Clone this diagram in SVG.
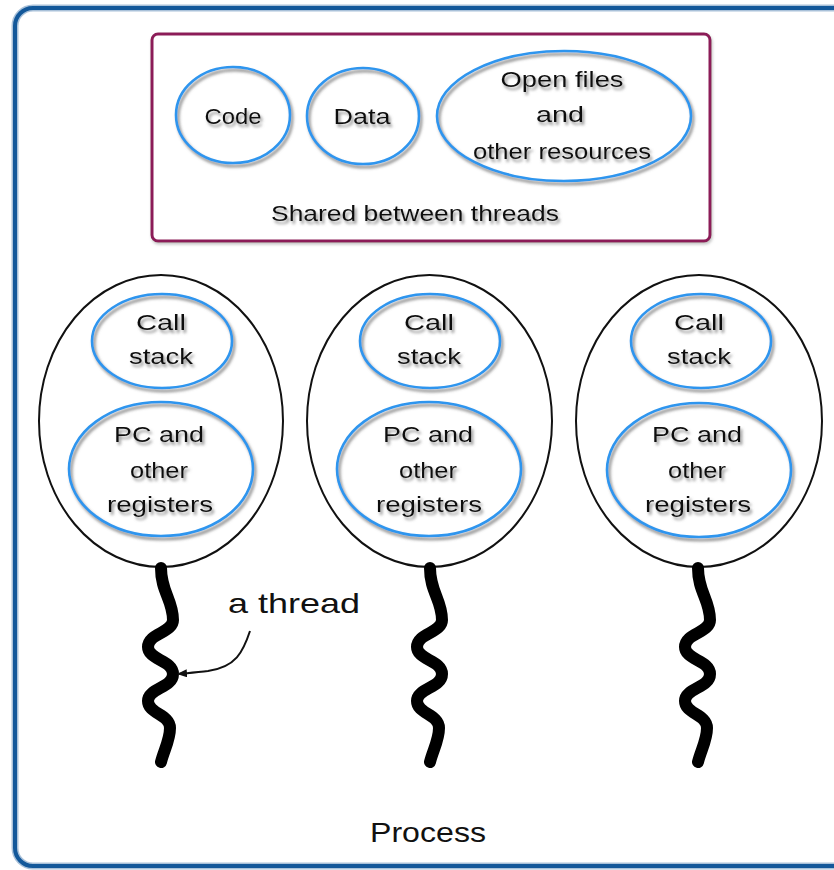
<svg xmlns="http://www.w3.org/2000/svg" width="834" height="870" viewBox="0 0 834 870">
<style>
text{font-family:"Liberation Sans","Noto Sans",sans-serif;fill:#111;text-anchor:middle}
.lbl{font-size:22px;filter:url(#tsh)}
.big{font-size:28px}
.blue{fill:none;stroke:#2e95ee;stroke-width:2.6;filter:url(#esh)}
.thr{fill:none;stroke:#111;stroke-width:2}
.wave{fill:none;stroke:#000;stroke-width:12;stroke-linecap:round;stroke-linejoin:round}
</style>
<defs>
<filter id="tsh" x="-20%" y="-30%" width="140%" height="170%">
<feDropShadow dx="2" dy="3" stdDeviation="1.6" flood-color="#777" flood-opacity="0.8"/>
</filter>
<filter id="esh" x="-10%" y="-10%" width="125%" height="125%">
<feDropShadow dx="2" dy="3" stdDeviation="1.8" flood-color="#666" flood-opacity="0.8"/>
</filter>
<filter id="bsh" x="-5%" y="-5%" width="110%" height="115%">
<feDropShadow dx="1" dy="2" stdDeviation="1.5" flood-color="#999" flood-opacity="0.6"/>
</filter>
<marker id="ah" viewBox="0 0 10 8" refX="9" refY="4" markerWidth="10" markerHeight="8" markerUnits="userSpaceOnUse" orient="auto">
<path d="M0,0 L10,4 L0,8 Z" fill="#111"/>
</marker>
<path id="wv" d="M0,568 C0,592 12,600 12,620 C12,633 -13,633 -13,647 C-13,660 12,660 12,674 C12,688 -13,688 -13,701 C-13,714 9,714 9,728 C9,740 3,750 0,762"/>
</defs>
<rect width="834" height="870" fill="#fff"/>
<g id="process">
<rect x="15" y="8" width="840" height="858" rx="18" fill="none" stroke="#a9c1d9" stroke-width="7"/>
<rect x="15" y="8" width="840" height="858" rx="18" fill="none" stroke="#13589a" stroke-width="4"/>
<text class="big" x="428" y="842" textLength="116" lengthAdjust="spacingAndGlyphs">Process</text>
</g>
<g id="shared">
<rect x="152" y="34" width="558" height="207" rx="6" fill="#fff" stroke="#8c1f59" stroke-width="3" filter="url(#bsh)"/>
<text class="lbl" x="415" y="221" textLength="288" lengthAdjust="spacingAndGlyphs">Shared between threads</text>
</g>
<g id="code">
<ellipse class="blue" cx="233" cy="115" rx="57" ry="48"/>
<text class="lbl" x="233" y="124" textLength="57" lengthAdjust="spacingAndGlyphs">Code</text>
</g>
<g id="data">
<ellipse class="blue" cx="363" cy="116" rx="56" ry="48"/>
<text class="lbl" x="362" y="124" textLength="57" lengthAdjust="spacingAndGlyphs">Data</text>
</g>
<g id="files">
<ellipse class="blue" cx="564" cy="116" rx="127" ry="65"/>
<text class="lbl" x="562" y="87" textLength="123" lengthAdjust="spacingAndGlyphs">Open files</text>
<text class="lbl" x="560" y="122" textLength="48" lengthAdjust="spacingAndGlyphs">and</text>
<text class="lbl" x="562" y="159" textLength="178" lengthAdjust="spacingAndGlyphs">other resources</text>
</g>
<g id="thread1">
<ellipse class="thr" cx="161" cy="421" rx="122" ry="146"/>
<ellipse class="blue" cx="162" cy="341" rx="70" ry="47"/>
<text class="lbl" x="161" y="330" textLength="50" lengthAdjust="spacingAndGlyphs">Call</text>
<text class="lbl" x="161" y="364" textLength="64" lengthAdjust="spacingAndGlyphs">stack</text>
<ellipse class="blue" cx="161" cy="469" rx="92" ry="67"/>
<text class="lbl" x="159" y="442" textLength="90" lengthAdjust="spacingAndGlyphs">PC and</text>
<text class="lbl" x="159" y="478" textLength="58" lengthAdjust="spacingAndGlyphs">other</text>
<text class="lbl" x="160" y="512" textLength="106" lengthAdjust="spacingAndGlyphs">registers</text>
<use href="#wv" class="wave" transform="translate(161,0)"/>
</g>
<g id="thread2">
<ellipse class="thr" cx="429.5" cy="421" rx="122.5" ry="146"/>
<ellipse class="blue" cx="430" cy="341" rx="70" ry="47"/>
<text class="lbl" x="429" y="330" textLength="50" lengthAdjust="spacingAndGlyphs">Call</text>
<text class="lbl" x="429" y="364" textLength="64" lengthAdjust="spacingAndGlyphs">stack</text>
<ellipse class="blue" cx="429" cy="469" rx="92" ry="67"/>
<text class="lbl" x="428" y="442" textLength="90" lengthAdjust="spacingAndGlyphs">PC and</text>
<text class="lbl" x="428" y="478" textLength="58" lengthAdjust="spacingAndGlyphs">other</text>
<text class="lbl" x="429" y="512" textLength="106" lengthAdjust="spacingAndGlyphs">registers</text>
<use href="#wv" class="wave" transform="translate(430,0)"/>
</g>
<g id="thread3">
<ellipse class="thr" cx="699" cy="421" rx="123" ry="146"/>
<ellipse class="blue" cx="701" cy="341" rx="70" ry="47"/>
<text class="lbl" x="699" y="330" textLength="50" lengthAdjust="spacingAndGlyphs">Call</text>
<text class="lbl" x="699" y="364" textLength="64" lengthAdjust="spacingAndGlyphs">stack</text>
<ellipse class="blue" cx="699" cy="470" rx="92" ry="67"/>
<text class="lbl" x="697" y="442" textLength="90" lengthAdjust="spacingAndGlyphs">PC and</text>
<text class="lbl" x="697" y="478" textLength="58" lengthAdjust="spacingAndGlyphs">other</text>
<text class="lbl" x="698" y="512" textLength="106" lengthAdjust="spacingAndGlyphs">registers</text>
<use href="#wv" class="wave" transform="translate(698,0)"/>
</g>
<g id="thread-label">
<text class="big" x="294" y="613" textLength="132" lengthAdjust="spacingAndGlyphs">a thread</text>
</g>
<g id="connectors">
<path d="M250,631 C243,652 236,667 208,671 C198,672 190,673 178,674" fill="none" stroke="#111" stroke-width="2" marker-end="url(#ah)"/>
</g>
</svg>
